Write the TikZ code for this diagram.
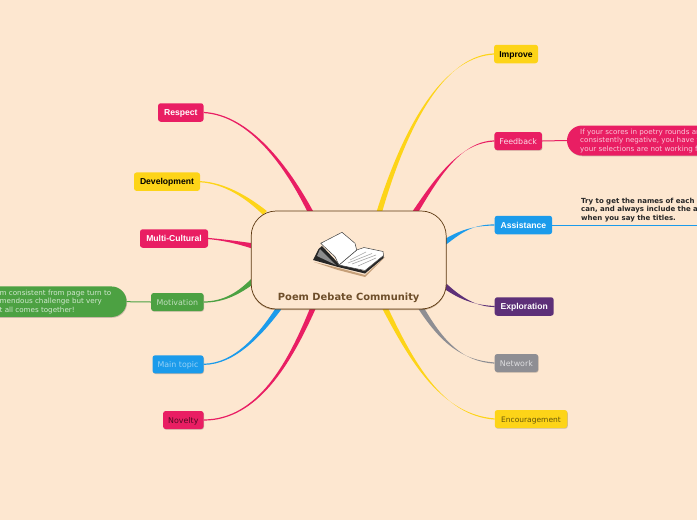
\documentclass[tikz,border=0pt]{standalone}
\usepackage{fontspec}
\setmainfont{DejaVu Sans}
\newfontfamily\lib{Liberation Sans}
\usetikzlibrary{calc,shadows}
\definecolor{bgc}{HTML}{FDE7D0}
\definecolor{rosec}{HTML}{E91E63}
\definecolor{sunc}{HTML}{FDD418}
\definecolor{skyc}{HTML}{1B9BEB}
\definecolor{leafc}{HTML}{4CA142}
\definecolor{plumc}{HTML}{5D3078}
\definecolor{grayc}{HTML}{8E8E93}
\definecolor{brownc}{HTML}{5E3A12}
\tikzset{
  topicbox/.style={rounded corners=2.6pt,inner sep=0pt,minimum height=18.5pt,anchor=center,text height=7.4pt,text depth=1pt,font=\fontsize{8.6}{10}\selectfont\lib\bfseries},
  softbox/.style={rounded corners=2.6pt,inner sep=0pt,minimum height=18pt,anchor=center,text height=7.4pt,text depth=1pt,font=\fontsize{7.9}{10}\selectfont,
    drop shadow={shadow xshift=0.5pt,shadow yshift=-0.7pt,opacity=.2,fill=black}},
  notetext/.style={inner sep=0pt,align=left,font=\fontsize{7.15}{8.6}\selectfont},
  leader/.style={line width=1pt},
  booktint/.style={draw=black!75,line width=.5pt,line join=round},
}
% colour, start, control 1, control 2, end point
\newcommand{\branch}[5]{%
  \fill[#1] ($(#2)!2.7pt!90:(#3)$) .. controls ($(#3)!1.5pt!90:(#4)$) and ($(#4)+(0,.6)$) .. ($(#5)+(0,.6)$)
     -- ($(#5)+(0,-.6)$) .. controls ($(#4)+(0,-.6)$) and ($(#3)!-1.5pt!90:(#4)$) .. ($(#2)!-2.7pt!90:(#3)$) -- cycle;}
\begin{document}
\begin{tikzpicture}[x=1pt,y=-1pt]
\useasboundingbox (0,0) rectangle (697,520);
\fill[bgc] (0,0) rectangle (697,520);

% topics, right
\node[topicbox,fill=sunc,text=black,minimum width=44pt] (improve) at (516,54) {Improve};
\node[softbox,fill=rosec,text=white!85!rosec,minimum width=47.5pt] (feedback) at (518.2,141) {Feedback};
\node[topicbox,fill=skyc,text=white,minimum width=57.5pt] (assist) at (523.4,225) {Assistance};
\node[topicbox,fill=plumc,text=white,minimum width=59pt] (explore) at (524.2,306.5) {Exploration};
\node[softbox,fill=grayc,text=white!70!grayc,minimum width=43.5pt] (network) at (516.4,363) {Network};
\node[softbox,fill=sunc,text=black!60!sunc,font=\fontsize{7.5}{10}\selectfont,minimum width=72.5pt] (encourage) at (531,419) {Encouragement};
% topics, left
\node[topicbox,fill=rosec,text=white,minimum width=45.5pt] (respect) at (180.8,112.5) {Respect};
\node[topicbox,fill=sunc,text=black,minimum width=66pt] (develop) at (167,181.7) {Development};
\node[topicbox,fill=rosec,text=white,minimum width=68pt] (multi) at (174,238.5) {Multi-Cultural};
\node[softbox,fill=leafc,text=white!65!leafc,minimum width=52.5pt] (motiv) at (177.3,302) {Motivation};
\node[softbox,fill=skyc,text=white!55!skyc,minimum width=51pt] (maintopic) at (178,364.3) {Main topic};
\node[softbox,fill=rosec,text=black!65!rosec,minimum width=40.5pt] (novelty) at (183.3,420) {Novelty};

% branches
\coordinate (s1) at (379,213); \coordinate (s2) at (414,214); \coordinate (s3) at (445,242);
\coordinate (s4) at (445,286); \coordinate (s5) at (421,308); \coordinate (s6) at (385,308);
\coordinate (s7) at (311,213); \coordinate (s8) at (265,213); \coordinate (s9) at (253,246);
\coordinate (s10) at (253,281); \coordinate (s11) at (279,308); \coordinate (s12) at (313,308);
\branch{sunc}{s1}{410,110}{450,56}{improve.west}
\branch{rosec}{s2}{437,178}{460,142}{feedback.west}
\branch{skyc}{s3}{460,232}{472,225}{assist.west}
\branch{plumc}{s4}{460,298}{475,306}{explore.west}
\branch{grayc}{s5}{442,342}{462,361}{network.west}
\branch{sunc}{s6}{412,362}{442,415}{encourage.west}
\branch{rosec}{s7}{288,168}{250,115}{respect.east}
\branch{sunc}{s8}{248,198}{225,183}{develop.east}
\branch{rosec}{s9}{240,243}{225,240}{multi.east}
\branch{leafc}{s10}{240,292}{225,302}{motiv.east}
\branch{skyc}{s11}{260,335}{235,364}{maintopic.east}
\branch{rosec}{s12}{290,362}{258,420}{novelty.east}

% hub
\node[draw=brownc,fill=bgc,line width=.7pt,rounded corners=25pt,minimum width=195pt,minimum height=98pt,inner sep=0pt,
  drop shadow={shadow xshift=0pt,shadow yshift=-1.2pt,opacity=.35,fill=brownc}] (hub) at (348.7,260) {};
\node[inner sep=0pt,text=brownc!90!white,font=\fontsize{9.9}{12}\selectfont\bfseries] (title) at (348.7,298.3) {Poem Debate Community};

% book
\fill[black!20!brown,opacity=.55] (314,262) -- (339,268) -- (365,275) -- (385,257) -- (365,277) -- (338,270) -- cycle;
\fill[black!85] (313,260) -- (318.5,249) -- (322,246) -- (339,264) -- (364.5,271) -- (383.5,255.5) -- (383.5,258) -- (365,273.5) -- (338,267) -- cycle;
\fill[black!45] (317,256) -- (320,249) -- (336,265) -- cycle;
\draw[booktint,fill=white] (356.7,250) -- (364,247.5) -- (383,251.5) -- (383.5,255.5) -- (365,270.5) -- (339,265) -- cycle;
\draw[booktint,fill=white] (320.7,243.3) -- (342,232.3) -- (355,243.3) -- (356.7,250) -- (339,265) -- (335,256.7) -- cycle;
\draw[black!35,line width=.6pt] (350,260) -- (366,252) (348,263) -- (372,253.5) (352,264) -- (376,255) (358,266) -- (376,258);

% notes
\begin{scope}
\clip (0,0) rectangle (697,520);
\node[fill=rosec,rounded corners=15pt,minimum width=150pt,minimum height=30pt,inner sep=0pt,
  drop shadow={shadow xshift=0.6pt,shadow yshift=-0.8pt,opacity=.2,fill=black}] (notefb) at (642,140.5) {};
\node[notetext,anchor=west,text=white!75!rosec] (notefbtext) at (580,140.7) {If your scores in poetry rounds ar\\consistently negative, you have t\\your selections are not working fo};
\node[fill=leafc,rounded corners=15pt,minimum width=150pt,minimum height=30.5pt,inner sep=0pt,
  drop shadow={shadow xshift=0.6pt,shadow yshift=-0.8pt,opacity=.2,fill=black}] (notemo) at (51.5,301.7) {};
\node[notetext,anchor=west,text=white!75!leafc] (notemotext) at (-0.5,302) {m consistent from page turn to\\mendous challenge but very\\t all comes together!};
\node[notetext,anchor=west,text=black!85,font=\fontsize{7}{8.6}\selectfont\bfseries] (noteas) at (581,209.7) {Try to get the names of each a\\can, and always include the a\\when you say the titles.};
\coordinate (edge) at (697,225);
\draw[draw=skyc,leader] (assist.east) -- (edge);
\end{scope}
\draw[rosec,leader] (feedback.east) -- (notefb.west);
\draw[leafc,leader] (motiv.west) -- (notemo.east);
\end{tikzpicture}
\end{document}
